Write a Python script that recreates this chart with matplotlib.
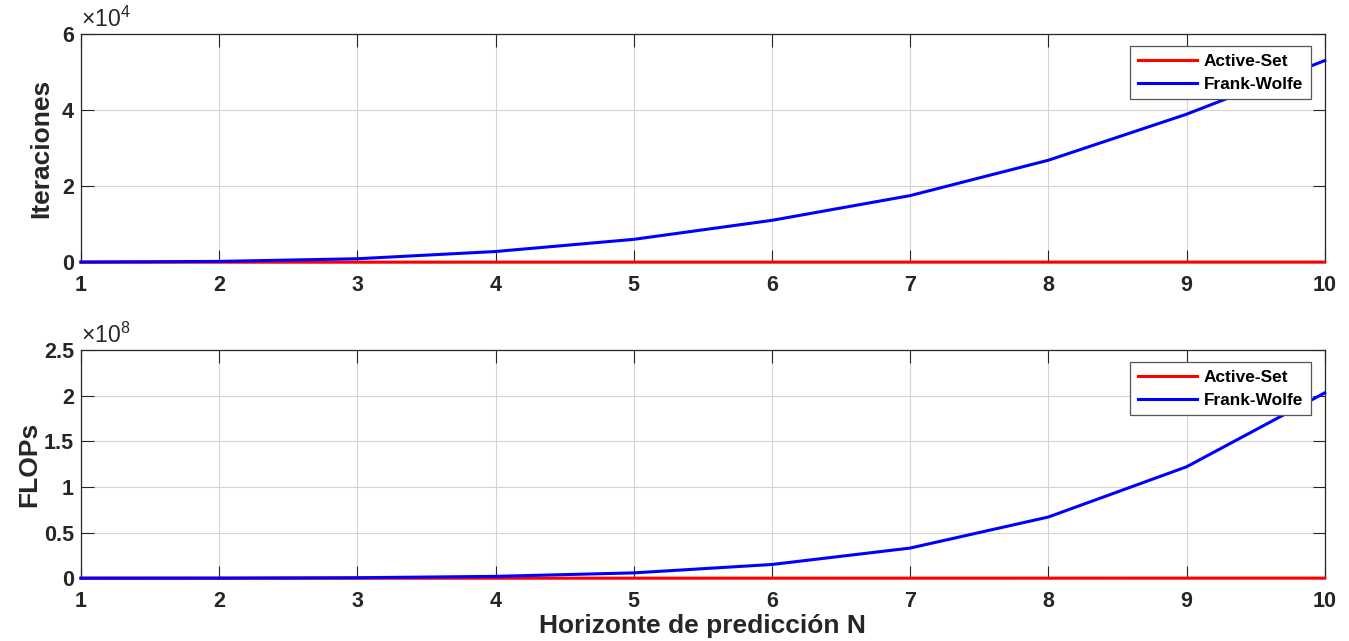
import numpy as np
import matplotlib
matplotlib.use("Agg")
import matplotlib.pyplot as plt
from matplotlib.ticker import FuncFormatter

# --------------------------------------------------
# Data
# --------------------------------------------------
horizon = [1, 2, 3, 4, 5, 6, 7, 8, 9, 10]

iter_active_set = [2, 4, 6, 9, 11, 14, 16, 19, 22, 25]
iter_frank_wolfe = [30, 200, 900, 2800, 6000, 11000, 17500, 26800, 38900, 53000]

flops_active_set = [150, 900, 2800, 6500, 12500, 21000, 33000, 49000, 70000, 95000]
flops_frank_wolfe = [2e3, 6e4, 5e5, 2.0e6, 5.8e6, 1.5e7, 3.3e7, 6.7e7, 1.22e8, 2.03e8]

y_ticks_iter = [0, 2e4, 4e4, 6e4]
y_ticks_flops = [0, 0.5e8, 1e8, 1.5e8, 2e8, 2.5e8]

plt.rcParams["font.family"] = ["Liberation Sans", "DejaVu Sans"]
plt.rcParams["mathtext.fontset"] = "custom"
plt.rcParams["mathtext.rm"] = "Liberation Sans"
plt.rcParams["mathtext.it"] = "Liberation Sans"

spine_col = "#262626"

fig = plt.figure(figsize=(13.49, 6.41), dpi=100)
ax1 = fig.add_axes([0.060, 0.591, 0.922, 0.356])
ax2 = fig.add_axes([0.060, 0.098, 0.922, 0.356])


def style_axes(ax, yticks, ylabel, exponent, ylabelpad):
    scale = 10.0 ** exponent
    ax.set_xlim(1, 10)
    ax.set_ylim(yticks[0], yticks[-1])
    ax.set_xticks(horizon)
    ax.set_yticks(yticks)
    ax.yaxis.set_major_formatter(FuncFormatter(lambda v, p: f"{v / scale:g}"))
    ax.grid(True, color="#d4d4d4", linewidth=0.8)
    ax.set_axisbelow(True)
    ax.tick_params(direction="in", length=9, width=0.8, top=True, right=True,
                   labelsize=15.5, colors=spine_col)
    ax.tick_params(axis="y", pad=5)
    ax.tick_params(axis="x", pad=9)
    for lab in ax.get_xticklabels() + ax.get_yticklabels():
        lab.set_fontweight("bold")
    for sp in ax.spines.values():
        sp.set_color(spine_col)
        sp.set_linewidth(0.9)
    ax.text(0.0, 1.008, r"$\times10^{%d}$" % exponent, transform=ax.transAxes,
            ha="left", va="bottom", fontsize=16.5, color=spine_col)
    ax.set_ylabel(ylabel, fontsize=19, fontweight="bold", color=spine_col,
                  labelpad=ylabelpad)
    leg = ax.legend(loc="upper right", bbox_to_anchor=(0.9887, 0.947),
                    fancybox=False, framealpha=1, edgecolor="#555555",
                    prop={"weight": "bold", "size": 12.4}, handlelength=3.4,
                    borderpad=0.45, labelspacing=0.45, handletextpad=0.4,
                    borderaxespad=0)
    leg.get_frame().set_linewidth(0.9)


def draw(ax, y, color, label):
    for line in ax.plot(horizon, y, color=color, linewidth=2.2, label=label,
                        zorder=3):
        line.set_clip_on(False)


draw(ax1, iter_active_set, "red", "Active-Set")
draw(ax1, iter_frank_wolfe, "blue", "Frank-Wolfe")
style_axes(ax1, y_ticks_iter, "Iteraciones", 4, 6)

draw(ax2, flops_active_set, "red", "Active-Set")
draw(ax2, flops_frank_wolfe, "blue", "Frank-Wolfe")
style_axes(ax2, y_ticks_flops, "FLOPs", 8, 2)
ax2.set_xlabel("Horizonte de predicción N", fontsize=19, fontweight="bold",
               color=spine_col, labelpad=2)

fig.savefig("out.png", dpi=100)
